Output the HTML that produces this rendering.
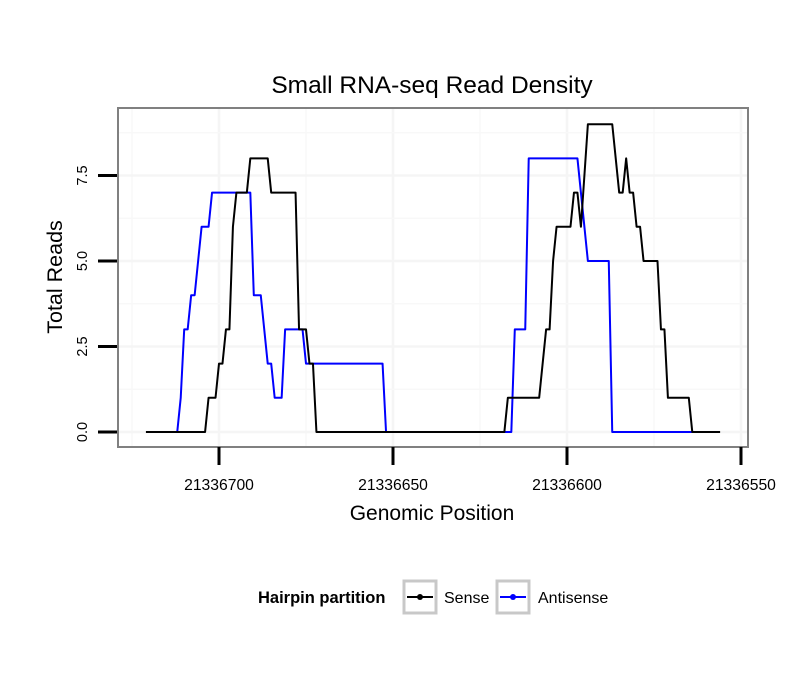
<!DOCTYPE html>
<html><head><meta charset="utf-8"><style>
html,body{margin:0;padding:0;background:#fff}
svg{display:block;font-family:"Liberation Sans",Arial,sans-serif}
</style></head><body>
<svg width="810" height="690" viewBox="0 0 810 690">
<g id="grid"></g>
<rect x="118" y="108" width="630" height="339" fill="none" stroke="#808080" stroke-width="2"/>
<g id="series"></g>
<g id="axes"></g>
<text x="432" y="93" text-anchor="middle" font-size="24.5">Small RNA-seq Read Density</text>
<text x="432" y="520" text-anchor="middle" font-size="21">Genomic Position</text>
<text transform="translate(62,277) rotate(-90)" text-anchor="middle" font-size="21.5">Total Reads</text>
<g>
<text x="258" y="603" font-size="16.5" font-weight="bold">Hairpin partition</text>
<g>
<rect x="404" y="581" width="32" height="32" fill="#fff" stroke="#c8c8c8" stroke-width="3"/>
<line x1="407" y1="597" x2="433" y2="597" stroke="#000" stroke-width="2"/>
<circle cx="420" cy="597" r="3" fill="#000"/>
<text x="444" y="603" font-size="16">Sense</text>
</g>
<g>
<rect x="497" y="581" width="32" height="32" fill="#fff" stroke="#c8c8c8" stroke-width="3"/>
<line x1="500" y1="597" x2="526" y2="597" stroke="#0000ff" stroke-width="2"/>
<circle cx="513" cy="597" r="3" fill="#0000ff"/>
<text x="538" y="603" font-size="16">Antisense</text>
</g>
</g>
</svg>
<script>
const senseX=[21336721,21336704,21336703,21336701,21336700,21336699,21336698,21336697,21336696,21336695,21336692,21336691,21336686,21336685,21336678,21336677,21336675,21336674,21336673,21336672,21336618,21336617,21336608,21336606,21336605,21336604,21336603,21336599,21336598,21336597,21336596,21336594,21336587,21336585,21336584,21336583,21336582,21336581,21336580,21336579,21336578,21336574,21336573,21336572,21336571,21336565,21336564,21336556];
const senseY=[0,0,1,1,2,2,3,3,6,7,7,8,8,7,7,3,3,2,2,0,0,1,1,3,3,5,6,6,7,7,6,9,9,7,7,8,7,7,6,6,5,5,3,3,1,1,0,0];
const antiX=[21336712,21336711,21336710,21336709,21336708,21336707,21336705,21336703,21336702,21336691,21336690,21336688,21336686,21336685,21336684,21336682,21336681,21336676,21336675,21336653,21336652,21336616,21336615,21336612,21336611,21336597,21336596,21336594,21336588,21336587,21336564];
const antiY=[0,1,3,3,4,4,6,6,7,7,4,4,2,2,1,1,3,3,2,2,0,0,3,3,8,8,7,5,5,0,0];
const xTicks=[21336700,21336650,21336600,21336550];
const yTicks=[0,2.5,5,7.5];
const NS="http://www.w3.org/2000/svg";
function xs(v){return 219+(21336700-v)*3.48;}
function ys(v){return 432-v*34.2;}
function mk(tag,attrs,parent){const e=document.createElementNS(NS,tag);for(const k in attrs)e.setAttribute(k,attrs[k]);parent.appendChild(e);return e;}
const grid=document.getElementById('grid'),axes=document.getElementById('axes'),series=document.getElementById('series');
for(let v=21336725;v>=21336550;v-=25){const x=xs(v);if(x<119||x>747)continue;
 const l=mk('line',{x1:x,x2:x,y1:109,y2:446,stroke:(v%50===0)?'#f5f5f5':'#f8f8f8','stroke-width':(v%50===0)?2.5:1.5},grid);
 
 }
for(let v=-1.25;v<=10;v+=1.25){const y=ys(v);if(y<109||y>446)continue;
 const l=mk('line',{x1:119,x2:747,y1:y,y2:y,stroke:(v%2.5===0)?'#f5f5f5':'#f8f8f8','stroke-width':(v%2.5===0)?2.5:1.5},grid);
 
 }
xTicks.forEach(v=>{const x=xs(v);
 const t=mk('line',{x1:x,x2:x,y1:447,y2:465,stroke:'#000','stroke-width':3},axes);
 
 
 const tx=mk('text',{x:x,y:490,'text-anchor':'middle','font-size':15.7},axes);tx.textContent=v;
 
 });
yTicks.forEach(v=>{const y=ys(v);
 const t=mk('line',{x1:98,x2:117,y1:y,y2:y,stroke:'#000','stroke-width':3},axes);
 
 
 const tx=mk('text',{transform:`translate(87,${y}) rotate(-90)`,'text-anchor':'middle','font-size':14.5},axes);tx.textContent=v.toFixed(1);
 
 });
function line(X,Y,color,name){const p=mk('polyline',{points:X.map((x,i)=>xs(x)+','+ys(Y[i])).join(' '),fill:'none',stroke:color,'stroke-width':2,'stroke-linejoin':'round'},series);
 
 }
line(antiX,antiY,'#0000ff','antisense-line');
line(senseX,senseY,'#000','sense-line');
</script>
</body></html>
